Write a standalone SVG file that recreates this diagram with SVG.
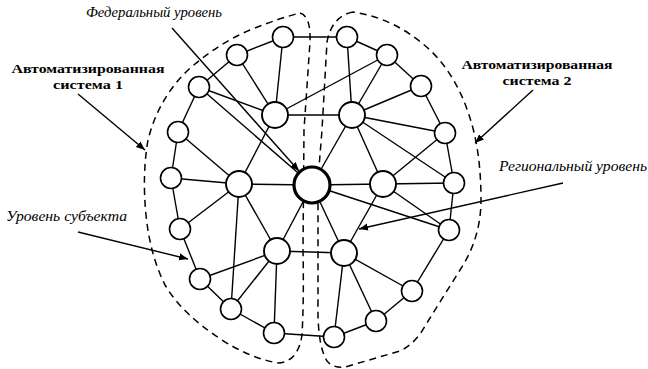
<svg xmlns="http://www.w3.org/2000/svg" width="648" height="369" viewBox="0 0 648 369">
<defs>
<marker id="ah" viewBox="0 0 10 10" refX="10" refY="5" markerWidth="9" markerHeight="9" markerUnits="userSpaceOnUse" orient="auto">
<path d="M0,1 L10,5 L0,9 Z" fill="#000"/>
</marker>
<style>
.bd{fill:none;stroke:#000;stroke-width:1.5;stroke-dasharray:7 5}
.e line{stroke:#000;stroke-width:1.4}
.ar{stroke:#000;stroke-width:1.4;marker-end:url(#ah)}
.n{fill:#fff;stroke:#000;stroke-width:1.6}
.m{fill:#fff;stroke:#000;stroke-width:1.9}
.c{fill:#fff;stroke:#000;stroke-width:3.2}
.it{font-family:"Liberation Serif",serif;font-style:italic;font-size:15px;fill:#000}
.bl{font-family:"Liberation Serif",serif;font-weight:bold;font-size:13.5px;fill:#000;text-anchor:middle}
</style>
</defs>
<rect width="648" height="369" fill="#fff"/>
<g id="boundaries">
<path class="bd" d="M300,13 Q311,16 310,42 L304,130 L303,250 Q304,300 302,335 Q298,362 278,363 Q250,358 222,340 Q182,314 165,285 Q150,255 146,215 Q142,175 148,140 Q158,100 186,72 Q215,45 250,30 Q280,18 300,13 Z"/>
<path class="bd" d="M353,12 Q332,16 327,42 L322,130 L318,180 L318,300 Q317,345 327,361 Q336,371 352,365 L400,351 Q415,344 425,326 L460,270 Q481,238 481,200 Q481,150 469,115 Q456,75 430,50 Q395,18 353,12 Z"/>
</g>
<g id="connectors" class="e">
<line x1="283" y1="37" x2="347" y2="37"/>
<line x1="283" y1="37" x2="275" y2="115"/>
<line x1="237" y1="55" x2="283" y2="37"/>
<line x1="237" y1="55" x2="275" y2="115"/>
<line x1="199" y1="87" x2="237" y2="55"/>
<line x1="199" y1="87" x2="275" y2="115"/>
<line x1="199" y1="87" x2="312" y2="185"/>
<line x1="199" y1="87" x2="178" y2="132"/>
<line x1="178" y1="132" x2="171" y2="178"/>
<line x1="178" y1="132" x2="239" y2="184"/>
<line x1="171" y1="178" x2="239" y2="184"/>
<line x1="171" y1="178" x2="180" y2="229"/>
<line x1="180" y1="229" x2="239" y2="184"/>
<line x1="180" y1="229" x2="200" y2="279"/>
<line x1="239" y1="184" x2="312" y2="185"/>
<line x1="239" y1="184" x2="275" y2="115"/>
<line x1="239" y1="184" x2="277" y2="251"/>
<line x1="239" y1="184" x2="231" y2="309"/>
<line x1="275" y1="115" x2="352" y2="115"/>
<line x1="275" y1="115" x2="387" y2="55"/>
<line x1="312" y1="185" x2="277" y2="251"/>
<line x1="277" y1="251" x2="200" y2="279"/>
<line x1="277" y1="251" x2="231" y2="309"/>
<line x1="277" y1="251" x2="274" y2="333"/>
<line x1="277" y1="251" x2="344" y2="253"/>
<line x1="200" y1="279" x2="231" y2="309"/>
<line x1="231" y1="309" x2="274" y2="333"/>
<line x1="274" y1="333" x2="334" y2="337"/>
<line x1="347" y1="37" x2="387" y2="55"/>
<line x1="347" y1="37" x2="352" y2="115"/>
<line x1="387" y1="55" x2="421" y2="86"/>
<line x1="387" y1="55" x2="352" y2="115"/>
<line x1="421" y1="86" x2="352" y2="115"/>
<line x1="421" y1="86" x2="445" y2="133"/>
<line x1="352" y1="115" x2="445" y2="133"/>
<line x1="352" y1="115" x2="454" y2="183"/>
<line x1="352" y1="115" x2="383" y2="184"/>
<line x1="352" y1="115" x2="312" y2="185"/>
<line x1="445" y1="133" x2="383" y2="184"/>
<line x1="445" y1="133" x2="454" y2="183"/>
<line x1="312" y1="185" x2="383" y2="184"/>
<line x1="383" y1="184" x2="454" y2="183"/>
<line x1="312" y1="185" x2="449" y2="230"/>
<line x1="383" y1="184" x2="449" y2="230"/>
<line x1="454" y1="183" x2="449" y2="230"/>
<line x1="383" y1="184" x2="344" y2="253"/>
<line x1="312" y1="185" x2="344" y2="253"/>
<line x1="449" y1="230" x2="412" y2="291"/>
<line x1="344" y1="253" x2="412" y2="291"/>
<line x1="344" y1="253" x2="376" y2="321"/>
<line x1="344" y1="253" x2="334" y2="337"/>
<line x1="376" y1="321" x2="412" y2="291"/>
<line x1="376" y1="321" x2="334" y2="337"/>
</g>
<g id="pointers">
<line class="ar" x1="172" y1="28" x2="299" y2="171"/>
<line class="ar" x1="78" y1="94" x2="145" y2="150"/>
<line class="ar" x1="533" y1="90" x2="475" y2="143"/>
<line class="ar" x1="563" y1="183" x2="359" y2="229"/>
<line class="ar" x1="78" y1="232" x2="188" y2="259"/>
</g>
<g id="nodes-system1">
<circle id="n-l1" class="n" cx="283" cy="37" r="10.5"/>
<circle id="n-l2" class="n" cx="237" cy="55" r="10.5"/>
<circle id="n-l3" class="n" cx="199" cy="87" r="10.5"/>
<circle id="n-l4" class="n" cx="178" cy="132" r="10.5"/>
<circle id="n-l5" class="n" cx="171" cy="178" r="10.5"/>
<circle id="n-l6" class="n" cx="180" cy="229" r="10.5"/>
<circle id="n-l7" class="n" cx="200" cy="279" r="10.5"/>
<circle id="n-l8" class="n" cx="231" cy="309" r="10.5"/>
<circle id="n-l9" class="n" cx="274" cy="333" r="10.5"/>
<circle id="n-li1" class="m" cx="275" cy="115" r="13"/>
<circle id="n-li2" class="m" cx="239" cy="184" r="13"/>
<circle id="n-li3" class="m" cx="277" cy="251" r="13"/>
</g>
<g id="nodes-system2">
<circle id="n-r1" class="n" cx="347" cy="37" r="10.5"/>
<circle id="n-r2" class="n" cx="387" cy="55" r="10.5"/>
<circle id="n-r3" class="n" cx="421" cy="86" r="10.5"/>
<circle id="n-r4" class="n" cx="445" cy="133" r="10.5"/>
<circle id="n-r5" class="n" cx="454" cy="183" r="10.5"/>
<circle id="n-r6" class="n" cx="449" cy="230" r="10.5"/>
<circle id="n-r7" class="n" cx="412" cy="291" r="10.5"/>
<circle id="n-r8" class="n" cx="376" cy="321" r="10.5"/>
<circle id="n-r9" class="n" cx="334" cy="337" r="10.5"/>
<circle id="n-ri1" class="m" cx="352" cy="115" r="13"/>
<circle id="n-ri2" class="m" cx="383" cy="184" r="13"/>
<circle id="n-ri3" class="m" cx="344" cy="253" r="13"/>
</g>
<g id="node-federal">
<circle class="c" cx="312" cy="185" r="18"/>
</g>
<g id="labels">
<text class="it" x="86" y="17" textLength="136" lengthAdjust="spacingAndGlyphs">Федеральный уровень</text>
<text class="bl" x="88" y="73" textLength="153" lengthAdjust="spacingAndGlyphs">Автоматизированная</text>
<text class="bl" x="88" y="89" textLength="70" lengthAdjust="spacingAndGlyphs">система 1</text>
<text class="bl" x="537" y="69" textLength="151" lengthAdjust="spacingAndGlyphs">Автоматизированная</text>
<text class="bl" x="537" y="85" textLength="69" lengthAdjust="spacingAndGlyphs">система 2</text>
<text class="it" x="499" y="171" textLength="148" lengthAdjust="spacingAndGlyphs">Региональный уровень</text>
<text class="it" x="6" y="221" textLength="121" lengthAdjust="spacingAndGlyphs">Уровень субъекта</text>
</g>
</svg>
